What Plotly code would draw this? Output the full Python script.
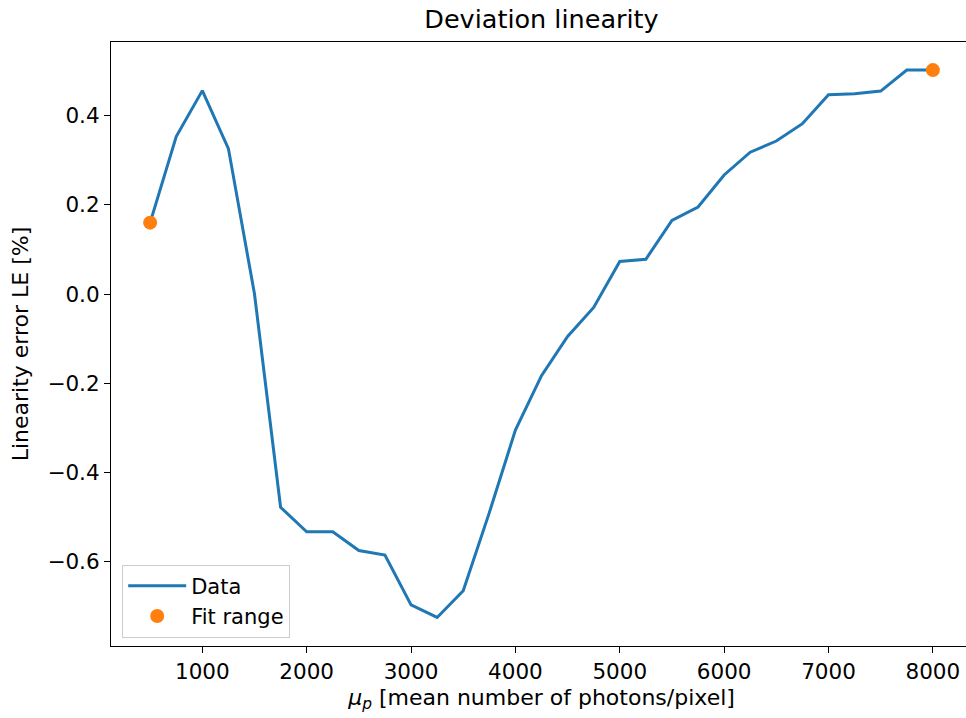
import plotly.graph_objects as go

x_vals = [500, 750, 1000, 1250, 1500, 1750, 2000, 2250, 2500, 2750, 3000, 3250, 3500,
          3750, 4000, 4250, 4500, 4750, 5000, 5250, 5500, 5750, 6000, 6250, 6500, 6750,
          7000, 7250, 7500, 7750, 8000]
le_vals = [0.160, 0.353, 0.456, 0.326, 0.000, -0.478, -0.533, -0.533, -0.575, -0.585,
           -0.697, -0.725, -0.665, -0.490, -0.305, -0.183, -0.095, -0.030, 0.073, 0.078,
           0.165, 0.195, 0.267, 0.318, 0.343, 0.382, 0.447, 0.449, 0.455, 0.502, 0.502]
fit_x = [500, 8000]
fit_y = [0.160, 0.502]

x_ticks = [1000, 2000, 3000, 4000, 5000, 6000, 7000, 8000]
y_ticks = [-0.6, -0.4, -0.2, 0.0, 0.2, 0.4]

FONT = "DejaVu Sans"

fig = go.Figure()
fig.add_trace(go.Scatter(x=x_vals, y=le_vals, mode="lines", name="Data",
                         line=dict(color="#1f77b4", width=3)))
fig.add_trace(go.Scatter(x=fit_x, y=fit_y, mode="markers", name="Fit range",
                         marker=dict(color="#ff7f0e", size=14)))

fig.update_layout(
    width=972, height=718,
    margin=dict(l=111, r=0, t=42, b=72, autoexpand=False),
    paper_bgcolor="white", plot_bgcolor="white",
    font=dict(family=FONT, size=21.5, color="black"),
    title=dict(text="Deviation linearity", x=0.5, xref="paper", xanchor="center",
               y=0.974, yref="container", yanchor="middle",
               font=dict(family=FONT, size=25.5, color="black")),
    legend=dict(x=0.013, y=0.014, xanchor="left", yanchor="bottom",
                bgcolor="rgba(255,255,255,0.8)", bordercolor="#cccccc", borderwidth=1,
                font=dict(family=FONT, size=21, color="black"), itemwidth=58,
                tracegroupgap=4),
    showlegend=True,
)
fig.update_xaxes(range=[125, 8375], tickvals=x_ticks, ticktext=[str(v) for v in x_ticks],
                 automargin=False,
                 showgrid=False, zeroline=False, showline=True, linecolor="black",
                 linewidth=1.2, mirror=True, ticks="outside", ticklen=6, tickcolor="black",
                 title=dict(text="<i>μ</i><sub><i>p</i></sub> [mean number of photons/pixel]",
                            font=dict(family=FONT, size=22), standoff=6))
fig.update_yaxes(range=[-0.789, 0.565], tickvals=y_ticks, tickformat=".1f",
                 automargin=False,
                 showgrid=False, zeroline=False, showline=True, linecolor="black",
                 linewidth=1.2, mirror=True, ticks="outside", ticklen=6, tickcolor="black",
                 title=dict(text="Linearity error LE [%]", font=dict(family=FONT, size=22),
                            standoff=12))

fig.write_html("out.html", config={"displayModeBar": False},
               post_script="document.body.style.margin='0';document.body.style.overflow='hidden';")
